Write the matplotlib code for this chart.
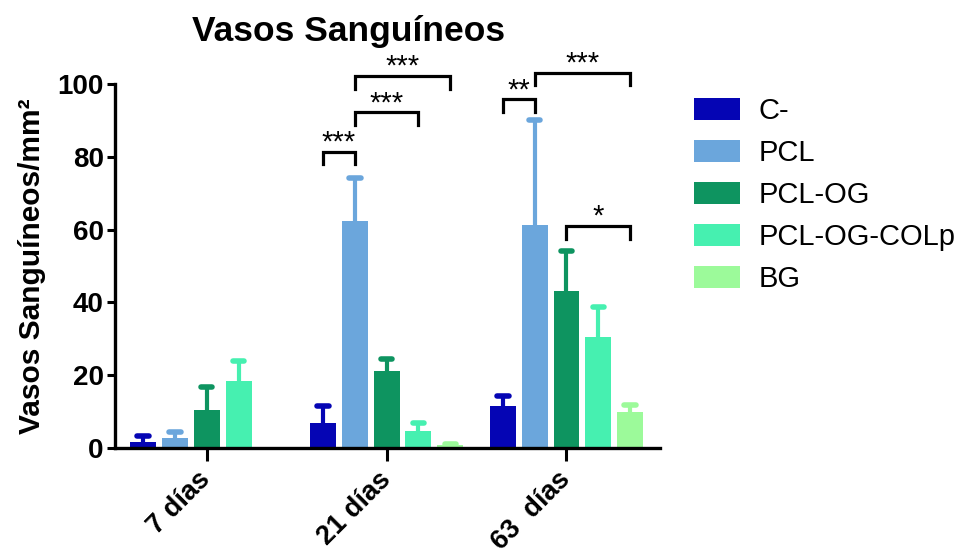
import matplotlib
matplotlib.use("Agg")
import matplotlib.pyplot as plt
import numpy as np
from matplotlib.patches import Patch

plt.rcParams['font.family'] = ['Liberation Sans', 'DejaVu Sans']

groups = ["7 días", "21 días", "63  días"]
series = ["C-", "PCL", "PCL-OG", "PCL-OG-COLp", "BG"]
colors = ["#0505B4", "#6BA6DC", "#0E9460", "#46F0B0", "#9CFA9A"]

means = {
    "C-":          [1.7, 6.8, 11.5],
    "PCL":         [2.7, 62.4, 61.3],
    "PCL-OG":      [10.4, 21.2, 43.2],
    "PCL-OG-COLp": [18.4, 4.7, 30.4],
    "BG":          [np.nan, 0.8, 9.9],
}
errs = {
    "C-":          [1.6, 4.8, 2.8],
    "PCL":         [1.8, 11.7, 28.8],
    "PCL-OG":      [6.4, 3.2, 10.8],
    "PCL-OG-COLp": [5.5, 2.1, 8.4],
    "BG":          [np.nan, 0.4, 1.9],
}

# significance brackets: (group, bar a, bar b, top value, label)
brackets = [
    (1, 0, 1, 81.4, "***"),
    (1, 1, 3, 92.2, "***"),
    (1, 1, 4, 102.2, "***"),
    (2, 0, 1, 95.8, "**"),
    (2, 1, 4, 103.1, "***"),
    (2, 2, 4, 61.0, "*"),
]

fig = plt.figure(figsize=(9.63, 5.56), dpi=100)
ax = fig.add_axes([0.1194, 0.194, 0.566, 0.655])

step = 0.177
width = 0.144
capw = 0.032
x = np.arange(len(groups))
for j, s in enumerate(series):
    xs = x + (j - 2) * step
    m = np.array(means[s], dtype=float)
    e = np.array(errs[s], dtype=float)
    ax.bar(xs, m, width=width, color=colors[j], edgecolor='none', zorder=2)
    ax.vlines(xs, m, m + e, color=colors[j], lw=3.0, zorder=1)
    ax.hlines(m + e, xs - capw, xs + capw, color=colors[j], lw=4.0,
              capstyle='round', zorder=1)

for g, a, b, top, lab in brackets:
    xa = g + (a - 2) * step
    xb = g + (b - 2) * step
    drop = 3.5
    ax.plot([xa, xa, xb, xb], [top - drop, top, top, top - drop], color='black',
            lw=2.3, clip_on=False, solid_joinstyle='miter', zorder=3)
    ax.text((xa + xb) / 2, top + 0.3, lab, ha='center', va='baseline',
            fontsize=21, clip_on=False)

ax.set_xlim(-0.51, 2.52)
ax.set_ylim(0, 100)
ax.set_yticks([0, 20, 40, 60, 80, 100])
ax.set_xticks(x)
ax.set_xticklabels(groups, rotation=45, ha='right', va='center',
                   rotation_mode='anchor', fontsize=19.5, fontweight='bold')
for lbl in ax.get_yticklabels():
    lbl.set_fontweight('bold')
    lbl.set_fontsize(20)
ax.tick_params(axis='y', length=6, width=2.2, pad=2)
ax.tick_params(axis='x', length=9, width=2.2, pad=11)
for sp in ['top', 'right']:
    ax.spines[sp].set_visible(False)
for sp in ['left', 'bottom']:
    ax.spines[sp].set_linewidth(2.4)

ax.set_ylabel("Vasos Sanguíneos/mm²", fontsize=21.5, fontweight='bold', labelpad=8)
fig.text(0.362, 0.944, "Vasos Sanguíneos", ha='center', va='center',
         fontsize=25.5, fontweight='bold')

handles = [Patch(facecolor=c, edgecolor='none') for c in colors]
fig.legend(handles, series, loc='upper left', bbox_to_anchor=(0.721, 0.825),
           frameon=False, fontsize=21, handlelength=1.55, handleheight=0.8,
           handletextpad=0.65, labelspacing=0.48, borderaxespad=0, borderpad=0)

fig.savefig("out.png", dpi=100)
